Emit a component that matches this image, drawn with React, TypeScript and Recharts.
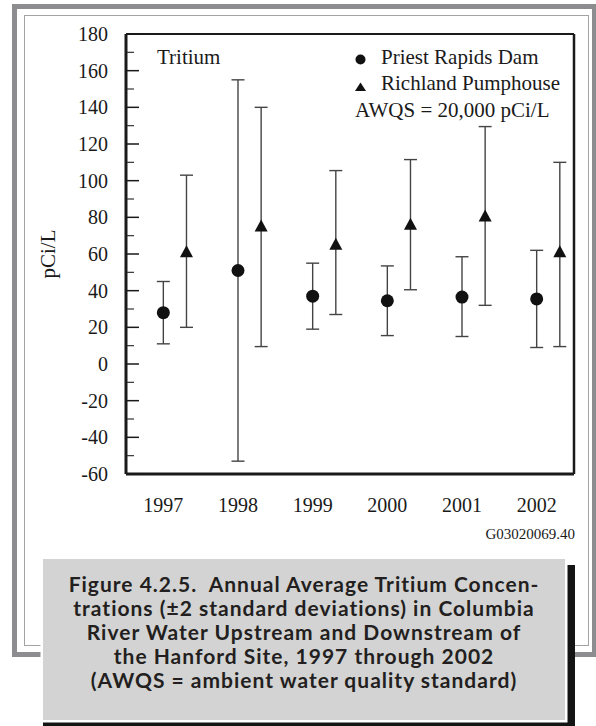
import React from 'react';
import { ScatterChart, Scatter, XAxis, YAxis, ErrorBar, ReferenceLine } from 'recharts';

// Tritium, annual averages with +/-2 SD, pCi/L
const years = [1997, 1998, 1999, 2000, 2001, 2002];
const priestMean = [28, 51, 37, 34.5, 36.5, 35.5];
const priestLow = [11, -53, 19, 15.5, 15, 9];
const priestHigh = [45, 155, 55, 53.5, 58.5, 62];
const richlandMean = [61, 75, 65, 76, 80.5, 61];
const richlandLow = [20, 9.5, 27, 40.5, 32, 9.5];
const richlandHigh = [103, 140, 105.5, 111.5, 129.5, 110];

const yMajorTicks = [-60, -40, -20, 0, 20, 40, 60, 80, 100, 120, 140, 160, 180];
const yMinorTicks = [-50, -30, -10, 10, 30, 50, 70, 90, 110, 130, 150, 170];
const yearBounds = [1997.5, 1998.5, 1999.5, 2000.5, 2001.5];

const seriesNames = ['Priest Rapids Dam', 'Richland Pumphouse'];
const captionLines = [
    'Figure 4.2.5.  Annual Average Tritium Concen-',
    'trations (\u00b12 standard deviations) in Columbia',
    'River Water Upstream and Downstream of',
    'the Hanford Site, 1997 through 2002',
    '(AWQS = ambient water quality standard)',
];

const X_DOMAIN: [number, number] = [1996.5, 2002.5];
const Y_DOMAIN: [number, number] = [-60, 180];
const PAIR_SHIFT = 0.31; // downstream marker sits right of the upstream one
const SERIF = '"Liberation Serif", "DejaVu Serif", serif';
const SANS = 'Lato, "Open Sans", sans-serif';
const INK = '#1a1a1a';

const priestRows = years.map((yr, i) => ({
    x: yr,
    y: priestMean[i],
    err: [priestMean[i] - priestLow[i], priestHigh[i] - priestMean[i]],
}));
const richlandRows = years.map((yr, i) => ({
    x: yr + PAIR_SHIFT,
    y: richlandMean[i],
    err: [richlandMean[i] - richlandLow[i], richlandHigh[i] - richlandMean[i]],
}));

const dot = (p: any) => <circle cx={p.cx} cy={p.cy} r={6.5} fill="#111" />;
const tri = (p: any) => (
    <polygon
        points={`${p.cx},${p.cy - 7} ${p.cx - 6.5},${p.cy + 5} ${p.cx + 6.5},${p.cy + 5}`}
        fill="#111"
    />
);

const blank = () => '';

const App = () => {
    return (
        <div
            style={{
                position: 'absolute',
                left: 0,
                top: 0,
                width: 596,
                height: 726,
                overflow: 'hidden',
                background: '#fff',
            }}>
            {/* page frame */}
            <div
                style={{
                    position: 'absolute',
                    left: 12,
                    top: 4,
                    width: 585,
                    height: 653,
                    border: '5px solid #8d8d8f',
                    boxSizing: 'border-box',
                }}
            />
            <div
                style={{
                    position: 'absolute',
                    left: 24,
                    top: 15,
                    width: 564.5,
                    height: 631,
                    border: '1.5px solid #a3a3a3',
                    boxSizing: 'border-box',
                }}
            />

            <div style={{ position: 'absolute', left: 0, top: 0 }}>
                <ScatterChart
                    width={596}
                    height={560}
                    margin={{ top: 34, right: 22, bottom: 56, left: 20 }}>
                    <XAxis
                        xAxisId="yr"
                        dataKey="x"
                        type="number"
                        domain={X_DOMAIN}
                        allowDataOverflow
                        ticks={years}
                        interval={0}
                        height={30}
                        axisLine={false}
                        tickLine={false}
                        tickSize={0}
                        tickMargin={24}
                        tick={{ fill: INK, fontSize: 20, fontFamily: SERIF }}
                    />
                    <XAxis
                        xAxisId="bd"
                        type="number"
                        domain={X_DOMAIN}
                        allowDataOverflow
                        ticks={yearBounds}
                        interval={0}
                        mirror
                        height={1}
                        tickSize={12}
                        tickLine={{ stroke: INK, strokeWidth: 1.5 }}
                        axisLine={{ stroke: INK, strokeWidth: 3 }}
                        tickFormatter={blank}
                    />
                    <YAxis
                        yAxisId="val"
                        dataKey="y"
                        type="number"
                        domain={Y_DOMAIN}
                        allowDataOverflow
                        ticks={yMajorTicks}
                        interval={0}
                        width={106}
                        axisLine={false}
                        tickLine={false}
                        tickSize={0}
                        tickMargin={18}
                        tick={{ fill: INK, fontSize: 20, fontFamily: SERIF }}
                        label={{
                            value: 'pCi/L',
                            angle: -90,
                            position: 'insideLeft',
                            offset: 28,
                            style: {
                                textAnchor: 'middle',
                                fill: INK,
                                fontSize: 21,
                                fontFamily: SERIF,
                            },
                        }}
                    />
                    <YAxis
                        yAxisId="maj"
                        type="number"
                        domain={Y_DOMAIN}
                        allowDataOverflow
                        ticks={yMajorTicks}
                        interval={0}
                        mirror
                        width={1}
                        tickSize={13}
                        tickLine={{ stroke: INK, strokeWidth: 1.5 }}
                        axisLine={{ stroke: INK, strokeWidth: 3 }}
                        tickFormatter={blank}
                    />
                    <YAxis
                        yAxisId="min"
                        type="number"
                        domain={Y_DOMAIN}
                        allowDataOverflow
                        ticks={yMinorTicks}
                        interval={0}
                        mirror
                        width={1}
                        tickSize={7}
                        tickLine={{ stroke: '#333', strokeWidth: 1.2 }}
                        axisLine={false}
                        tickFormatter={blank}
                    />
                    <ReferenceLine
                        xAxisId="yr"
                        yAxisId="val"
                        y={180}
                        stroke={INK}
                        strokeWidth={2}
                    />
                    <ReferenceLine
                        xAxisId="yr"
                        yAxisId="val"
                        x={2002.5}
                        stroke={INK}
                        strokeWidth={2.5}
                    />
                    <Scatter
                        name={seriesNames[0]}
                        data={priestRows}
                        xAxisId="yr"
                        yAxisId="val"
                        shape={dot}
                        isAnimationActive={false}>
                        <ErrorBar
                            dataKey="err"
                            direction="y"
                            width={6.5}
                            stroke="#444"
                            strokeWidth={1.4}
                            isAnimationActive={false}
                        />
                    </Scatter>
                    <Scatter
                        name={seriesNames[1]}
                        data={richlandRows}
                        xAxisId="yr"
                        yAxisId="val"
                        shape={tri}
                        isAnimationActive={false}>
                        <ErrorBar
                            dataKey="err"
                            direction="y"
                            width={6.5}
                            stroke="#444"
                            strokeWidth={1.4}
                            isAnimationActive={false}
                        />
                    </Scatter>
                </ScatterChart>
            </div>

            {/* in-plot notes, legend, figure id */}
            <svg
                width={596}
                height={560}
                style={{ position: 'absolute', left: 0, top: 0, pointerEvents: 'none' }}
                fontFamily={SERIF}
                fill={INK}>
                <text x={157} y={64} fontSize={21}>
                    Tritium
                </text>
                <circle cx={360.5} cy={59.5} r={5} fill="#111" />
                <text x={381} y={63.5} fontSize={21}>
                    {seriesNames[0]}
                </text>
                <polygon points="360.5,82.5 355,91 366,91" fill="#111" />
                <text x={381} y={89.5} fontSize={21}>
                    {seriesNames[1]}
                </text>
                <text x={355} y={116.5} fontSize={21}>
                    AWQS = 20,000 pCi/L
                </text>
                <text x={575} y={539} fontSize={15} textAnchor="end">
                    G03020069.40
                </text>
            </svg>

            {/* caption with drop shadow */}
            <div
                style={{
                    position: 'absolute',
                    left: 43,
                    top: 565,
                    width: 532,
                    height: 161,
                    background: '#141414',
                }}
            />
            <div
                style={{
                    position: 'absolute',
                    left: 43,
                    top: 559,
                    width: 522,
                    height: 161,
                    background: '#d3d3d3',
                    boxShadow: '0 0 0 2.5px #fff',
                    boxSizing: 'border-box',
                    paddingTop: 13,
                    textAlign: 'center',
                    fontFamily: SANS,
                    fontWeight: 700,
                    fontSize: 21,
                    letterSpacing: 1,
                    lineHeight: '24px',
                    color: '#231f20',
                    whiteSpace: 'pre',
                }}>
                {captionLines.map(line => (
                    <div key={line}>{line}</div>
                ))}
            </div>
        </div>
    );
};

export default App;
